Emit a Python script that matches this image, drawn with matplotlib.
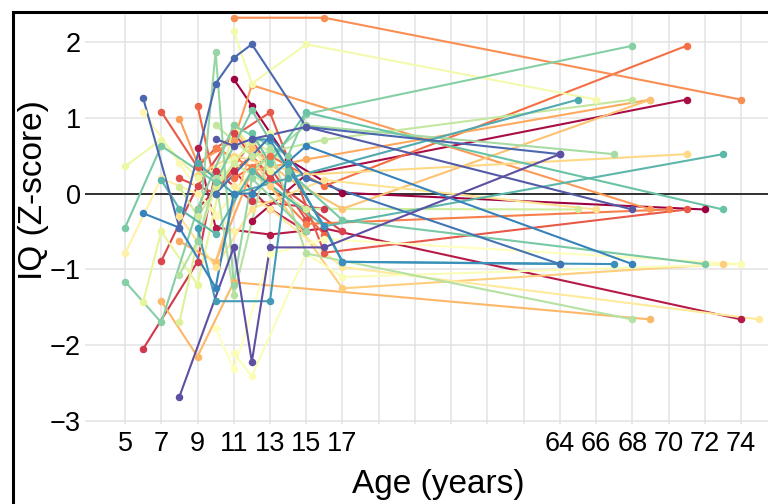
import matplotlib
matplotlib.use("Agg")
import matplotlib.pyplot as plt
from matplotlib.lines import Line2D

plt.rcParams['font.family'] = ['Liberation Sans', 'DejaVu Sans']

# ---- data: each subject's ages (years) and IQ z-scores, ordered by colour ----
subject_ages = [
    [11, 12, 14, 17, 72],
    [12, 15, 71],
    [9, 10, 13, 16, 74],
    [9, 11, 13, 15],
    [6, 9, 10, 12, 16],
    [7, 9, 11, 13, 17],
    [8, 10, 12, 15],
    [7, 9, 10, 13, 16, 71],
    [9, 10, 12, 16],
    [11, 13, 16, 71],
    [10, 12, 15, 70],
    [11, 16, 74],
    [8, 9, 11, 12, 69],
    [8, 10, 12, 15, 69],
    [7, 9, 11, 69],
    [10, 12, 14, 17, 69],
    [11, 13, 17, 73],
    [9, 11, 15, 71],
    [8, 10, 12, 16, 66],
    [11, 13, 17, 75],
    [5, 7, 9, 11],
    [6, 8, 10, 12],
    [10, 11, 13, 16, 74],
    [11, 12, 15, 17, 74],
    [11, 12, 15, 66],
    [5, 7, 9, 11, 13],
    [6, 7, 9, 11, 13],
    [8, 9, 10, 12, 14],
    [8, 9, 11, 15, 65],
    [10, 12, 16, 68],
    [8, 9, 10, 11, 13, 15, 68],
    [12, 15, 67],
    [9, 10, 11, 12, 15],
    [5, 7, 9, 11, 14, 15, 68],
    [5, 7, 10, 12, 14, 17, 72],
    [12, 13, 15, 73],
    [7, 8, 10, 12, 16, 73],
    [9, 11, 14, 65],
    [9, 10, 13, 14, 17, 64],
    [12, 13, 16, 17, 67],
    [6, 8, 10, 11, 12, 15, 68],
    [10, 13, 15, 64],
    [6, 8, 10, 11, 12, 15, 64],
    [10, 11, 12, 15, 68],
    [8, 11, 12, 13, 16, 64],
]
subject_iq = [
    [1.51, 1.16, 0.45, 0.01, -0.21],
    [-0.36, 0.25, 1.24],
    [0.60, -0.45, -0.54, -0.46, -1.66],
    [-0.20, 0.30, -0.20, -0.50],
    [-2.05, -0.90, 0.30, -0.10, -0.20],
    [-0.89, 0.10, 0.80, 0.20, -0.50],
    [0.20, 0.00, 0.70, -0.35],
    [1.08, 0.35, 0.60, 1.07, -0.78, -0.21],
    [1.16, 0.10, 0.50, -0.54],
    [0.20, 0.50, 0.10, 1.95],
    [0.60, 0.35, -0.40, -0.21],
    [2.32, 2.32, 1.24],
    [0.99, 0.40, 0.70, 1.43, -0.21],
    [-0.63, -0.90, 0.30, 0.45, 1.24],
    [-1.42, -2.15, -1.17, -1.66],
    [-0.90, 0.60, 0.20, -0.20, 1.24],
    [0.90, 0.10, -1.25, -0.93],
    [0.25, 0.50, 0.25, 0.52],
    [-0.30, -0.97, -0.20, 0.18, -0.21],
    [0.10, -0.20, -0.97, -1.66],
    [-0.79, 0.20, 0.00, -0.50],
    [1.08, 0.40, -0.30, 0.30],
    [-1.78, -2.32, -0.80, -0.60, -0.93],
    [-2.10, -2.41, -0.79, -1.10, -0.93],
    [2.14, 1.45, 1.97, 1.24],
    [0.36, 0.71, 0.20, 0.45, 0.80],
    [-1.43, -0.50, -1.20, 0.90, 0.30],
    [-1.70, -0.63, 0.10, 0.70, 0.40],
    [0.09, -0.30, 0.40, -0.20, -0.21],
    [0.90, 0.50, 0.71, 1.24],
    [-1.07, -0.63, 0.20, -1.34, 0.60, -0.79, -1.66],
    [0.30, 0.90, 0.52],
    [-0.63, 1.87, -1.20, 0.20, -0.50],
    [-1.16, -1.70, -0.20, 0.90, 0.50, 1.05, 1.95],
    [-0.45, 0.63, 0.15, 1.10, 0.30, -0.35, -0.93],
    [0.80, 0.40, 1.07, -0.21],
    [0.18, -0.20, -0.53, 0.30, -0.43, 0.52],
    [0.40, 0.00, 0.20, 1.24],
    [-0.45, -1.42, -1.42, 0.40, -0.90, -0.93],
    [0.72, 0.71, -0.43, -0.90, -0.93],
    [-0.26, -0.45, -1.24, 0.00, 0.00, 0.63, -0.93],
    [0.00, 0.75, 0.20, -0.93],
    [1.26, -0.45, 1.45, 1.79, 1.97, 0.88, 0.52],
    [0.72, 0.63, 0.72, 0.88, -0.21],
    [-2.68, -0.71, -2.22, -0.71, -0.71, 0.52],
]
age_ticks = [5, 7, 9, 11, 13, 15, 17, 64, 66, 68, 70, 72, 74]
iq_ticks = [-3, -2, -1, 0, 1, 2]
gap_cut = 17       # ages above this are shifted left (compressed axis)
gap_shift = 35


def squish(a):
    return a if a <= gap_cut else a - gap_shift


W, H = 768, 504
fig = plt.figure(figsize=(W / 100, H / 100), dpi=100)
left, right, top, bottom = 85, 768, 15, 424
ax = fig.add_axes([left / W, 1 - bottom / H, (right - left) / W, (bottom - top) / H])

# grid
for gx in range(5, 40, 2):
    ax.axvline(gx, color='#e3e3e3', lw=1.1, zorder=0)
for gy in iq_ticks:
    ax.axhline(gy, color='#e3e3e3', lw=1.1, zorder=0)
ax.axhline(0, color='black', lw=1.1, zorder=1)

cmap = plt.get_cmap('Spectral')
n = len(subject_ages)
for i, (ages, iqs) in enumerate(zip(subject_ages, subject_iq)):
    xs = [squish(a) for a in ages]
    ax.plot(xs, iqs, color=cmap(i / (n - 1)), lw=1.5, zorder=2, solid_capstyle='round')
for i, (ages, iqs) in enumerate(zip(subject_ages, subject_iq)):
    xs = [squish(a) for a in ages]
    ax.plot(xs, iqs, ls='none', marker='o', ms=4.4, color=cmap(i / (n - 1)), zorder=3)

ax.set_xlim(2.79, 40.49)
ax.set_ylim(-3.04, 2.356)
ax.set_xticks([squish(a) for a in age_ticks])
ax.set_xticklabels([str(a) for a in age_ticks])
ax.set_yticks(iq_ticks)
ax.tick_params(axis='both', length=0, labelsize=19.5)
ax.tick_params(axis='x', pad=5)
ax.tick_params(axis='y', pad=3)
for s in ax.spines.values():
    s.set_visible(False)
ax.set_xlabel('Age (years)', fontsize=24)
ax.set_ylabel('IQ (Z-score)', fontsize=24)
ax.xaxis.set_label_coords((438 - left) / (right - left), -(485 - bottom) / (bottom - top))
ax.yaxis.set_label_coords(-(left - 34) / (right - left), (bottom - 190) / (bottom - top))
ax.xaxis.label.set_va('center')
ax.yaxis.label.set_va('center')

# outer frame (top and left edges of the cropped figure border)
fig.add_artist(Line2D([13 / W, 1], [1 - 12 / H, 1 - 12 / H], color='black', lw=2.2))
fig.add_artist(Line2D([13 / W, 13 / W], [0, 1 - 12 / H], color='black', lw=2.2))

fig.savefig('out.png', dpi=100)
